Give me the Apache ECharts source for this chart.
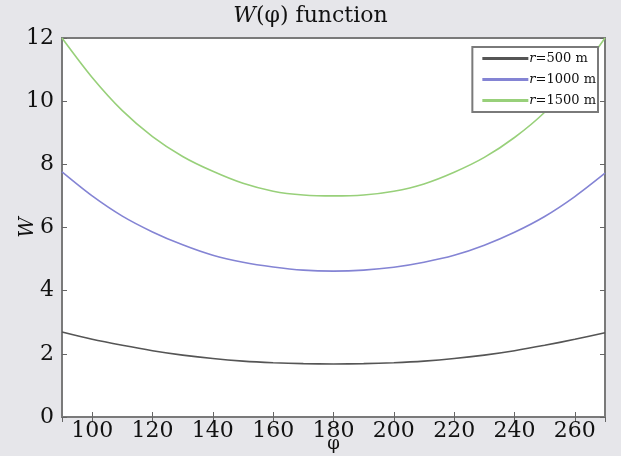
<!DOCTYPE html>
<html>
<head>
    <meta charset="utf-8">
    <title>W function</title>
    <script src="https://cdn.jsdelivr.net/npm/echarts@6/dist/echarts.min.js"></script>
    <style>
        html, body { margin: 0; padding: 0; background: #e6e6ea; }
        #chart { width: 621px; height: 456px; }
    </style>
</head>
<body>
<div id="chart"></div>
<script>
    // phi values (degrees)
    var phi = [90, 100, 110, 120, 130, 140, 150, 160, 170, 180, 190, 200, 210, 220, 230, 240, 250, 260, 270];
    var seriesNames = ['r=500 m', 'r=1000 m', 'r=1500 m'];
    var w500 = [2.69, 2.46, 2.27, 2.10, 1.96, 1.85, 1.77, 1.72, 1.69, 1.68, 1.69, 1.72, 1.77, 1.85, 1.96, 2.10, 2.27, 2.46, 2.67];
    var w1000 = [7.76, 7.00, 6.36, 5.86, 5.45, 5.12, 4.90, 4.75, 4.65, 4.62, 4.65, 4.74, 4.90, 5.12, 5.44, 5.85, 6.35, 6.98, 7.72];
    var w1500 = [12.0, 10.75, 9.70, 8.88, 8.25, 7.78, 7.40, 7.15, 7.03, 7.00, 7.03, 7.15, 7.38, 7.75, 8.22, 8.85, 9.65, 10.70, 12.0];
    var colors = ['#555555', '#8484d4', '#98d07a'];

    function pairs(ys) {
        return phi.map(function (p, i) { return [p, ys[i]]; });
    }

    var serif = 'DejaVu Serif';
    var chart = echarts.init(document.getElementById('chart'));

    var tickStyle = { show: true, inside: true, length: 5, lineStyle: { color: '#666', width: 1 } };
    var lineStyleAxis = { show: true, lineStyle: { color: '#7a7a7a', width: 2 } };

    var option = {
        backgroundColor: '#e6e6ea',
        animation: false,
        title: {
            text: '{i|W}(φ) function',
            left: 'center',
            top: 0,
            textStyle: {
                fontFamily: serif, fontSize: 22, fontWeight: 'normal', color: '#111',
                rich: { i: { fontFamily: serif, fontSize: 22, fontStyle: 'italic', color: '#111' } }
            }
        },
        legend: {
            orient: 'vertical',
            right: 23,
            top: 47,
            backgroundColor: '#ffffff',
            borderColor: '#7a7a7a',
            borderWidth: 2,
            padding: [5, 2, 5, 10],
            itemWidth: 46,
            itemHeight: 3,
            itemGap: 8,
            icon: 'rect',
            data: seriesNames,
            formatter: function (name) {
                return '{i|r}' + name.slice(1);
            },
            textStyle: {
                fontFamily: serif, fontSize: 13, color: '#111', padding: [0, 0, 0, -4],
                rich: { i: { fontFamily: serif, fontSize: 13, fontStyle: 'italic', color: '#111' } }
            }
        },
        grid: {
            left: 62, right: 16, top: 38, bottom: 39,
            outerBoundsMode: 'none',
            show: true, backgroundColor: '#ffffff', borderColor: '#7a7a7a', borderWidth: 2
        },
        xAxis: [{
            type: 'value', min: 90, max: 270, splitNumber: 9,
            name: 'φ', nameLocation: 'middle', nameGap: 18, nameMoveOverlap: false,
            nameTextStyle: { fontFamily: serif, fontSize: 18, color: '#111' },
            axisLine: lineStyleAxis, axisTick: tickStyle, splitLine: { show: false },
            axisLabel: {
                showMinLabel: false, showMaxLabel: false, margin: 3,
                fontFamily: serif, fontSize: 22, color: '#111'
            }
        }, {
            type: 'value', min: 90, max: 270, splitNumber: 9, position: 'top',
            axisLine: lineStyleAxis, axisTick: tickStyle, splitLine: { show: false },
            axisLabel: { show: false }
        }],
        yAxis: [{
            type: 'value', min: 0, max: 12, interval: 2,
            name: 'W', nameLocation: 'middle', nameGap: 24, nameRotate: 90, nameMoveOverlap: false,
            nameTextStyle: { fontFamily: serif, fontSize: 20, fontStyle: 'italic', color: '#111' },
            axisLine: lineStyleAxis, axisTick: tickStyle, splitLine: { show: false },
            axisLabel: { margin: 8, fontFamily: serif, fontSize: 22, color: '#111' }
        }, {
            type: 'value', min: 0, max: 12, interval: 2, position: 'right',
            axisLine: lineStyleAxis, axisTick: tickStyle, splitLine: { show: false },
            axisLabel: { show: false }
        }],
        series: [w500, w1000, w1500].map(function (ys, i) {
            return {
                name: seriesNames[i],
                type: 'line',
                xAxisIndex: 0,
                yAxisIndex: 0,
                data: pairs(ys),
                smooth: 0.3,
                showSymbol: false,
                symbol: 'none',
                color: colors[i],
                lineStyle: { color: colors[i], width: 1.6 },
                z: 2
            };
        })
    };
    chart.setOption(option);
</script>
</body>
</html>
